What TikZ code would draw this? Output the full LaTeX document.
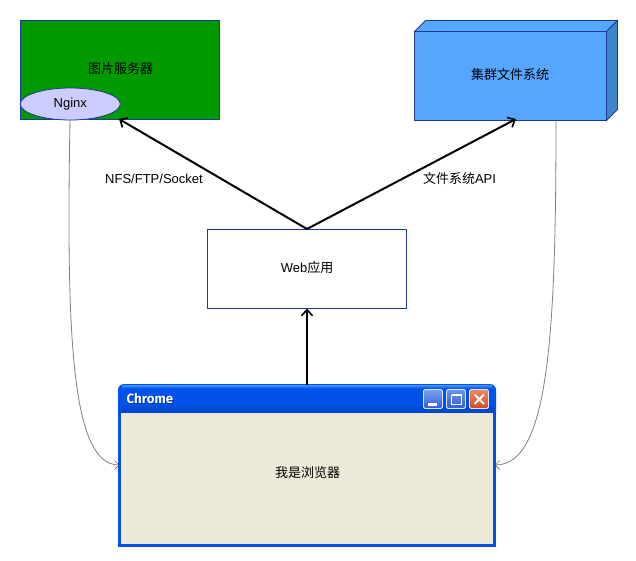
\documentclass[tikz,border=0pt]{standalone}
\usepackage{fontspec}
\usetikzlibrary{shapes.geometric,arrows.meta,positioning}
\setmainfont{Liberation Sans}
\newfontfamily\cjk{Noto Sans CJK SC}
\newfontfamily\wintitle{Fira Sans}
\definecolor{edgeblue}{HTML}{1F3A93}
\definecolor{srvgreen}{HTML}{009900}
\definecolor{ellfill}{HTML}{CCCCFF}
\definecolor{cubefront}{HTML}{55A6FF}
\definecolor{cubeside}{HTML}{4085CC}
\definecolor{xpblue}{HTML}{0052EA}
\definecolor{xpdark}{HTML}{0044C8}
\definecolor{xplight}{HTML}{3A8CFF}
\definecolor{xpbody}{HTML}{ECE9D8}
\definecolor{btnlight}{HTML}{7FA0F0}
\definecolor{btndark}{HTML}{2F5FD8}
\definecolor{btnedge}{HTML}{DDE6FF}
\definecolor{closelight}{HTML}{EE8A60}
\definecolor{closedark}{HTML}{D8481C}
\tikzset{
  x=1pt,y=-1pt,
  every node/.style={font=\fontsize{13}{15}\selectfont,inner sep=0pt,outer sep=0pt},
  boxnode/.style={draw=edgeblue,line width=.8pt,minimum width=199pt,anchor=north west},
  mainarrow/.style={draw=black,line width=2pt,-{Straight Barb[length=6pt,width=11pt,line width=1.7pt]}},
  thinarrow/.style={draw=black!50,line width=.8pt,-{Straight Barb[length=4.5pt,width=9pt,line width=.5pt,color=black!70]}},
  winbtn/.style={draw=btnedge,line width=.8pt,rounded corners=1.5pt,minimum width=19pt,minimum height=19pt,anchor=north west},
}
\begin{document}
\begin{tikzpicture}
\useasboundingbox (0,0) rectangle (636,560);
% green server
\node[boxnode,fill=srvgreen,minimum height=99pt] (srv) at (20.5,20.5) {};
\node (srvlabel) at (120.5,68.5) {\cjk 图片服务器};
\node[ellipse,draw=edgeblue,line width=.8pt,fill=ellfill,minimum width=100pt,minimum height=32pt] (ngx) at (70.3,104) {Nginx};
% cube
\draw[edgeblue,line width=.8pt,fill=cubefront] (414.5,31.5) -- (425.5,20.5) -- (617.5,20.5) -- (606.5,31.5) -- cycle;
\draw[edgeblue,line width=.8pt,fill=cubeside] (606.5,31.5) -- (617.5,20.5) -- (617.5,109.5) -- (606.5,120.5) -- cycle;
\node[draw=edgeblue,line width=.8pt,fill=cubefront,minimum width=192pt,minimum height=89pt,anchor=north west] (cube) at (414.5,31.5) {};
\node (cubelabel) at (510,74.5) {\cjk 集群文件系统};
% web
\node[boxnode,fill=white,minimum height=79pt] (web) at (207.5,229.5) {};
\node (weblabel) at (307,268) {Web\cjk 应用};
% window
\fill[xpblue,rounded corners=6pt] (118,420) -- (118,384) -- (496,384) -- (496,420) -- cycle;
\fill[xpblue] (118,410) rectangle (496,547);
\shade[top color=xplight,bottom color=xpblue] (122,385.5) rectangle (492,388.5);
\shade[top color=xpblue,bottom color=xpdark] (119,404) rectangle (495,412);
\node[fill=xpbody,minimum width=372pt,minimum height=131pt,anchor=north west] (win) at (121,413) {};
\node[anchor=west,font=\wintitle\fontsize{13.3}{15}\selectfont\bfseries,text=xpdark!70!black] (titleshadow) at (127.4,399.5) {Chrome};
\node[anchor=west,font=\wintitle\fontsize{13.3}{15}\selectfont\bfseries,text=white] (title) at (126.7,398.8) {Chrome};
\node[winbtn,top color=btnlight,bottom color=btndark] (bmin) at (423.5,389.5) {};
\fill[white] (428,403) rectangle (437,405.5);
\node[winbtn,top color=btnlight!80!btndark,bottom color=btndark] (bmax) at (446.5,389.5) {};
\draw[white,line width=.9pt] (451.5,395) rectangle (461.5,404.5);
\draw[white,line width=2pt] (451.5,395) -- (461.5,395);
\node[winbtn,top color=closelight,bottom color=closedark] (bclose) at (469.5,389.5) {};
\draw[white,line width=2pt] (474.5,394.5) -- (484,404) (484,394.5) -- (474.5,404);
\node (winlabel) at (307.5,472.5) {\cjk 我是浏览器};
% coordinates
\coordinate (hub) at (307,229);
\coordinate (srvhit) at (119,119);
\coordinate (cubehit) at (516,119);
\coordinate (webbot) at (307,308.5);
\coordinate (wintop) at (307,384.5);
\coordinate (winl) at (119.5,465);
\coordinate (winr) at (495,465);
\coordinate (ngxbot) at (70,120);
\coordinate (cubebot) at (556,120.5);
% connectors
\draw[mainarrow] (hub) -- (srvhit);
\draw[mainarrow] (hub) -- (cubehit);
\draw[mainarrow] (wintop) -- (webbot);
\draw[thinarrow] (ngxbot) .. controls (66,340) and (72,465) .. (winl);
\draw[thinarrow] (cubebot) .. controls (556,340) and (548,465) .. (winr);
% labels
\node (l1) at (154,178.5) {NFS/FTP/Socket};
\node (l2) at (459.5,178.5) {\cjk 文件系统\rmfamily API};
\end{tikzpicture}
\end{document}
